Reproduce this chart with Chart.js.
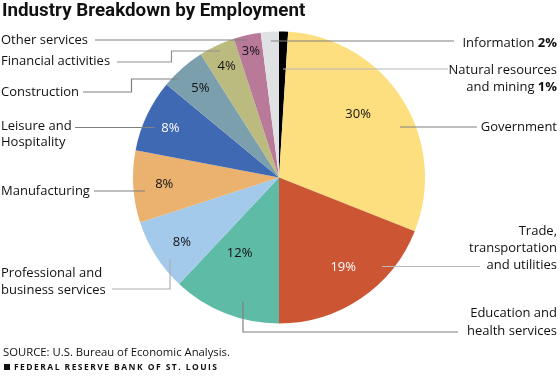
<!DOCTYPE html>
<html>
<head>
<meta charset="utf-8">
<script src="https://cdn.jsdelivr.net/npm/chart.js@4/dist/chart.umd.min.js"></script>
<style>
  html, body { margin: 0; padding: 0; background: #fff; }
  #wrap { position: relative; width: 560px; height: 383px; }
</style>
</head>
<body>
<div id="wrap"><canvas id="pieChart" width="560" height="383"></canvas></div>
<script>
// data, clockwise from 12 o'clock
const categories = [
  "Natural resources and mining",
  "Government",
  "Trade, transportation and utilities",
  "Education and health services",
  "Professional and business services",
  "Manufacturing",
  "Leisure and Hospitality",
  "Construction",
  "Financial activities",
  "Other services",
  "Information",
];
const shares = [1, 30, 19, 12, 8, 8, 8, 5, 4, 3, 2];
const sliceColors = [
  "#000000", "#FDDF7F", "#CC5633", "#5EBBA5", "#A3C9EB", "#EAB16F",
  "#3F6AB3", "#7C9FAE", "#BBBB80", "#B97A99", "#E0E1E3",
];

//==========================================================================
// label layout (not data)
const FONT = '"Open Sans", "DejaVu Sans", sans-serif';
// percent labels inside the pie: [radius px, angle nudge deg, colour]
const pctLayout = [
  null, [101, -6, "#111"], [110, -1.5, "#fff"], [85, 6, "#111"], [117, -1.5, "#111"],
  [115, 0, "#111"], [119, -1, "#fff"], [119, 0, "#111"], [123, 0, "#111"], [129, 0, "#111"], null,
];
// outside labels: lines of text, x, y (centre of each line), align, bold suffix
const outLabels = [
  { lines: ["Natural resources", "and mining "], bold: "1%", x: 557, y: [70, 87], align: "right" },
  { lines: ["Government"], x: 557, y: [127], align: "right" },
  { lines: ["Trade,", "transportation", "and utilities"], x: 557, y: [231, 248, 265], align: "right" },
  { lines: ["Education and", "health services"], x: 557, y: [313, 331], align: "right" },
  { lines: ["Professional and", "business services"], x: 1, y: [273, 290], align: "left" },
  { lines: ["Manufacturing"], x: 1, y: [191], align: "left" },
  { lines: ["Leisure and", "Hospitality"], x: 1, y: [126, 142], align: "left" },
  { lines: ["Construction"], x: 1, y: [92], align: "left" },
  { lines: ["Financial activities"], x: 1, y: [61], align: "left" },
  { lines: ["Other services"], x: 1, y: [40], align: "left" },
  { lines: ["Information "], bold: "2%", x: 557, y: [43], align: "right" },
];
// leader lines
const leaders = [
  { pts: [[283, 69], [448, 69]], c: "#b8b8b8" },
  { pts: [[400, 127], [477, 127]], c: "#808080" },
  { pts: [[382, 266.5], [480, 266.5]], c: "#b8b8b8" },
  { pts: [[243, 301], [243, 332], [458, 332]], c: "#808080" },
  { pts: [[170, 259], [170, 289], [112, 289]], c: "#b0b0b0" },
  { pts: [[145, 191], [94, 191]], c: "#808080" },
  { pts: [[155, 127.5], [75, 127.5]], c: "#808080" },
  { pts: [[178, 79], [131.5, 79], [131.5, 92], [83, 92]], c: "#808080" },
  { pts: [[220, 51], [171.5, 51], [171.5, 62], [117, 62]], c: "#909090" },
  { pts: [[247, 40], [95, 40]], c: "#808080" },
  { pts: [[271, 41], [454, 41]], c: "#808080" },
];

const annotate = {
  id: "annotate",
  afterDatasetsDraw(chart) {
    const ctx = chart.ctx;
    const arcs = chart.getDatasetMeta(0).data;
    ctx.save();

    // leader lines
    leaders.forEach((l) => {
      ctx.beginPath();
      ctx.strokeStyle = l.c;
      ctx.lineWidth = 1.2;
      l.pts.forEach((p, i) => (i ? ctx.lineTo(p[0], p[1]) : ctx.moveTo(p[0], p[1])));
      ctx.stroke();
    });

    // percentages in slices
    ctx.textBaseline = "middle";
    ctx.textAlign = "center";
    ctx.font = "13px " + FONT;
    arcs.forEach((arc, i) => {
      const lay = pctLayout[i];
      if (!lay) return;
      const a = (arc.startAngle + arc.endAngle) / 2 + (lay[1] * Math.PI) / 180;
      ctx.fillStyle = lay[2];
      ctx.fillText(shares[i] + "%", arc.x + Math.cos(a) * lay[0], arc.y + Math.sin(a) * lay[0]);
    });

    // category labels
    ctx.fillStyle = "#111";
    outLabels.forEach((lab) => {
      lab.lines.forEach((t, j) => {
        const last = j === lab.lines.length - 1;
        let x = lab.x;
        if (last && lab.bold) {
          ctx.font = "bold 13px " + FONT;
          ctx.textAlign = "right";
          ctx.fillText(lab.bold, x, lab.y[j]);
          x -= ctx.measureText(lab.bold).width;
        }
        ctx.font = "13px " + FONT;
        ctx.textAlign = lab.align;
        ctx.fillText(t, x, lab.y[j]);
      });
    });

    // title, source, footer
    ctx.textAlign = "left";
    ctx.font = 'bold 18.8px Roboto, "Open Sans", sans-serif';
    ctx.fillText("Industry Breakdown by Employment", 2, 11);
    ctx.font = "11.3px " + FONT;
    ctx.fillText("SOURCE: U.S. Bureau of Economic Analysis.", 3, 353);
    ctx.fillRect(4, 364, 6, 6);
    ctx.font = "bold 8.5px " + FONT;
    ctx.letterSpacing = "1.45px";
    ctx.fillText("FEDERAL RESERVE BANK OF ST. LOUIS", 14, 367.5);
    ctx.restore();
  },
};

const pieChart = new Chart(document.getElementById("pieChart"), {
  type: "pie",
  data: {
    labels: categories,
    datasets: [
      {
        data: shares,
        backgroundColor: sliceColors,
        borderWidth: 0,
      },
    ],
  },
  options: {
    responsive: false,
    animation: false,
    layout: { padding: { left: 133, right: 135, top: 31, bottom: 59 } },
    plugins: {
      legend: { display: false },
      tooltip: { enabled: false },
    },
  },
  plugins: [annotate],
});
</script>
</body>
</html>
